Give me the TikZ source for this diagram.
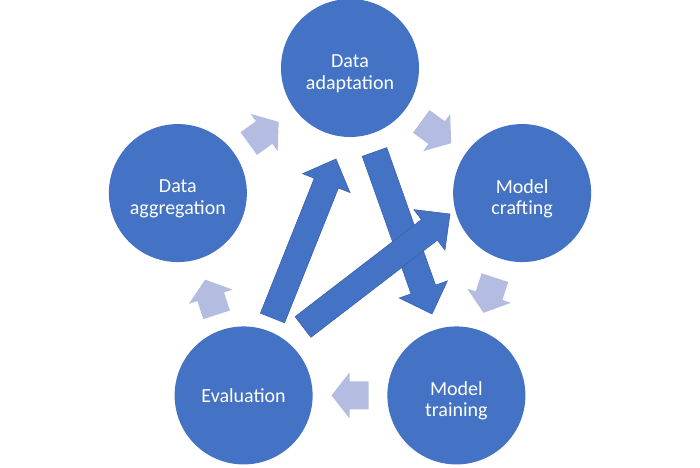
\documentclass[tikz,border=0pt]{standalone}
\usepackage{fontspec}
\setmainfont{Carlito}
\usetikzlibrary{calc}
\definecolor{cblue}{RGB}{68,114,196}
\definecolor{cedge}{RGB}{58,98,172}
\definecolor{clight}{RGB}{180,189,225}
% block arrow: #1 tail, #2 tip, #3 shaft half width, #4 head half width, #5 head length, #6 style
\newcommand{\blockarr}[6]{%
  \path[#6] let \p1=(#1), \p2=(#2), \n1={atan2(\y2-\y1,\x2-\x1)}, \n2={veclen(\x2-\x1,\y2-\y1)} in
    ([shift={(\p1)},rotate=\n1]0,-#3) -- ([shift={(\p1)},rotate=\n1]\n2-#5,-#3) --
    ([shift={(\p1)},rotate=\n1]\n2-#5,-#4) -- ([shift={(\p1)},rotate=\n1]\n2,0) --
    ([shift={(\p1)},rotate=\n1]\n2-#5,#4) -- ([shift={(\p1)},rotate=\n1]\n2-#5,#3) --
    ([shift={(\p1)},rotate=\n1]0,#3) -- cycle;}
\begin{document}
\begin{tikzpicture}[x=1pt,y=1pt,
  stage/.style={circle, fill=cblue, minimum size=138pt, inner sep=0pt},
  stagetext/.style={text=white, align=center, inner sep=0pt,
    font=\fontsize{20}{21.5}\selectfont},
  bigarrow/.style={fill=cblue, draw=cedge, line width=0.6pt},
  cyclearrow/.style={fill=clight}]
\useasboundingbox (0,0) rectangle (700,467);
\coordinate (O) at (350,218);
\node[stage, label={[stagetext, yshift=-5.5pt]center:Data\\adaptation}] (adapt) at ($(O)+(90:181)$) {};
\node[stage, label={[stagetext, yshift=-5.5pt]center:Model\\crafting}] (craft) at ($(O)+(18:181)$) {};
\node[stage, label={[stagetext, yshift=-5.5pt]center:Model\\training}] (train) at ($(O)+(-54:181)$) {};
\node[stage, label={[stagetext]center:Evaluation}] (eval) at ($(O)+(-126:181)$) {};
\node[stage, label={[stagetext, yshift=-5.5pt]center:Data\\aggregation}] (agg) at ($(O)+(162:181)$) {};
% light cycle arrows at edge midpoints
\coordinate (m1) at ($(agg.center)!0.5!(adapt.center)+(0,-2.5)$);
\coordinate (m2) at ($(adapt.center)!0.5!(craft.center)+(0,-2)$);
\coordinate (m3) at ($(craft.center)!0.5!(train.center)+(0,-1)$);
\coordinate (m4) at ($(train.center)!0.5!(eval.center)$);
\coordinate (m5) at ($(eval.center)!0.5!(agg.center)+(0,-3)$);
\coordinate (l1s) at ($(m1)!18.5pt!(agg.center)$);   \coordinate (l1e) at ($(m1)!18.5pt!(adapt.center)$);
\coordinate (l2s) at ($(m2)!18.5pt!(adapt.center)$); \coordinate (l2e) at ($(m2)!18.5pt!(craft.center)$);
\coordinate (l3s) at ($(m3)!18.5pt!(craft.center)$); \coordinate (l3e) at ($(m3)!18.5pt!(train.center)$);
\coordinate (l4s) at ($(m4)!18.5pt!(train.center)$); \coordinate (l4e) at ($(m4)!18.5pt!(eval.center)$);
\coordinate (l5s) at ($(m5)!18.5pt!(eval.center)$);  \coordinate (l5e) at ($(m5)!18.5pt!(agg.center)$);
\blockarr{l1s}{l1e}{14}{23}{18}{cyclearrow}
\blockarr{l2s}{l2e}{14}{23}{18}{cyclearrow}
\blockarr{l3s}{l3e}{14}{23}{18}{cyclearrow}
\blockarr{l4s}{l4e}{14}{23}{18}{cyclearrow}
\blockarr{l5s}{l5e}{14}{23}{18}{cyclearrow}
% big arrows
\coordinate (a1s) at (272.5,149); \coordinate (a1e) at (336,308);
\coordinate (a2s) at (374.5,315); \coordinate (a2e) at (432,153);
\coordinate (a3s) at (303,140);   \coordinate (a3e) at (450,253);
\blockarr{a1s}{a1e}{13}{25.5}{26}{bigarrow}
\blockarr{a2s}{a2e}{13}{25.5}{26}{bigarrow}
\blockarr{a3s}{a3e}{13}{25.5}{26}{bigarrow}
\end{tikzpicture}
\end{document}
